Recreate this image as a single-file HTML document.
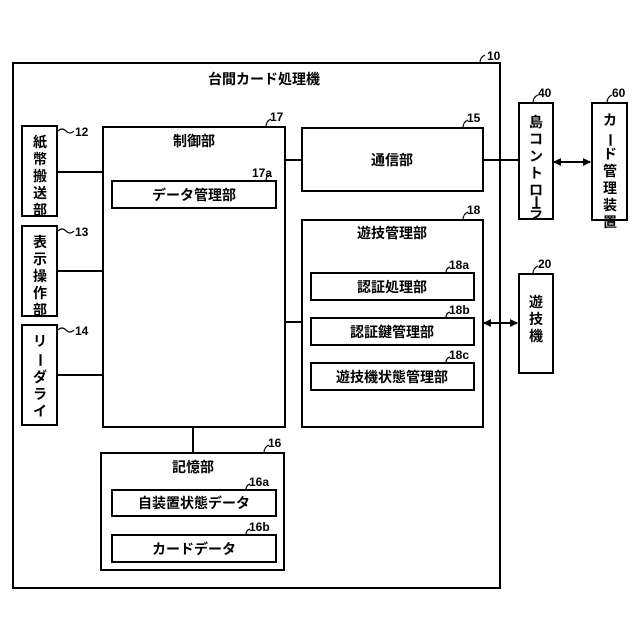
<!DOCTYPE html>
<html><head><meta charset="utf-8"><style>
html,body{margin:0;padding:0;background:#fff;}
svg{display:block;}
text{font-family:"Liberation Sans","Noto Sans CJK JP",sans-serif;fill:#000;}
.t{font-size:14px;font-weight:bold;}
.n{font-size:12px;font-weight:bold;}
</style></head><body>
<svg width="640" height="640" viewBox="0 0 640 640" xmlns="http://www.w3.org/2000/svg">
<defs><marker id="a" markerWidth="8" markerHeight="8" refX="7" refY="4" orient="auto-start-reverse" markerUnits="userSpaceOnUse"><path d="M0,0 L8,4 L0,8 z" fill="#000"/></marker></defs>
<g fill="none" stroke="#000" stroke-width="2">
<rect x="13" y="63" width="487" height="525"/>
<rect x="22" y="126" width="35" height="90"/>
<rect x="22" y="226" width="35" height="90"/>
<rect x="22" y="325" width="35" height="100"/>
<rect x="103" y="127" width="182" height="300"/>
<rect x="112" y="181" width="164" height="27"/>
<rect x="302" y="128" width="181" height="63"/>
<rect x="302" y="220" width="181" height="207"/>
<rect x="311" y="273" width="163" height="27"/>
<rect x="311" y="318" width="163" height="27"/>
<rect x="311" y="363" width="163" height="27"/>
<rect x="101" y="453" width="183" height="117"/>
<rect x="112" y="490" width="164" height="26"/>
<rect x="112" y="535" width="164" height="27"/>
<rect x="519" y="103" width="34" height="116"/>
<rect x="592" y="103" width="35" height="117"/>
<rect x="519" y="274" width="34" height="99"/>
<path d="M57 172H103M57 271H103M57 375H103M285 160H302M285 322H302M483 160H519M193 427V453"/>
<path d="M484 323H517" marker-start="url(#a)" marker-end="url(#a)"/>
<path d="M554 162H590" marker-start="url(#a)" marker-end="url(#a)"/>
<g stroke-width="1.2">
<path d="M58 131q4-4 8 0t8 0"/><path d="M58 231q4-4 8 0t8 0"/><path d="M58 330q4-4 8 0t8 0"/>
<path d="M266 127q0-6 5-8"/><path d="M266 181q0-5 4-6"/><path d="M463 128q0-6 5-8"/><path d="M463 220q0-6 5-8"/>
<path d="M446 273q0-5 4-6"/><path d="M446 318q0-5 4-6"/><path d="M446 363q0-5 4-6"/>
<path d="M264 453q0-6 5-8"/><path d="M246 490q0-5 4-6"/><path d="M246 535q0-5 4-6"/>
<path d="M533 103q0-6 5-8"/><path d="M607 103q0-6 5-8"/><path d="M533 274q0-6 5-8"/><path d="M480 63q0-6 5-8"/>
</g></g>
<text class="t" x="264" y="84" text-anchor="middle">台間カード処理機</text>
<text class="n" x="487" y="60">10</text>
<text class="n" x="75" y="136">12</text><text class="n" x="75" y="236">13</text><text class="n" x="75" y="335">14</text>
<text class="n" x="270" y="121">17</text><text class="n" x="252" y="177">17a</text>
<text class="n" x="467" y="122">15</text><text class="n" x="467" y="214">18</text>
<text class="n" x="449" y="269">18a</text><text class="n" x="449" y="314">18b</text><text class="n" x="449" y="359">18c</text>
<text class="n" x="268" y="447">16</text><text class="n" x="249" y="486">16a</text><text class="n" x="249" y="531">16b</text>
<text class="n" x="538" y="97">40</text><text class="n" x="612" y="97">60</text><text class="n" x="538" y="268">20</text>
<g class="t" text-anchor="middle">
<text x="194" y="146">制御部</text>
<text x="194" y="200">データ管理部</text>
<text x="392" y="165">通信部</text>
<text x="392" y="238">遊技管理部</text>
<text x="392" y="292">認証処理部</text>
<text x="392" y="337">認証鍵管理部</text>
<text x="392" y="382">遊技機状態管理部</text>
<text x="193" y="472">記憶部</text>
<text x="194" y="508">自装置状態データ</text>
<text x="194" y="554">カードデータ</text>
</g>
<g class="t" text-anchor="middle">
<text x="40" y="147">紙</text><text x="40" y="164">幣</text><text x="40" y="181">搬</text><text x="40" y="198">送</text><text x="40" y="215">部</text>
<text x="40" y="247">表</text><text x="40" y="264">示</text><text x="40" y="281">操</text><text x="40" y="298">作</text><text x="40" y="315">部</text>
<text x="40" y="346">リ</text><text x="40" y="365" transform="rotate(90 40 360)">ー</text><text x="40" y="382">ダ</text><text x="40" y="399">ラ</text><text x="40" y="416">イ</text><text x="40" y="433" style="display:none">タ</text>
<text x="536" y="127">島</text><text x="536" y="144">コ</text><text x="536" y="161">ン</text><text x="536" y="178">ト</text><text x="536" y="195">ロ</text><text x="536" y="207" transform="rotate(90 536 202)">ー</text><text x="536" y="218">ラ</text>
<text x="610" y="125">カ</text><text x="610" y="145" transform="rotate(90 610 140)">ー</text><text x="610" y="159">ド</text><text x="610" y="176">管</text><text x="610" y="193">理</text><text x="610" y="210">装</text><text x="610" y="227">置</text>
<text x="536" y="307">遊</text><text x="536" y="324">技</text><text x="536" y="341">機</text>
</g>
</svg>
</body></html>
